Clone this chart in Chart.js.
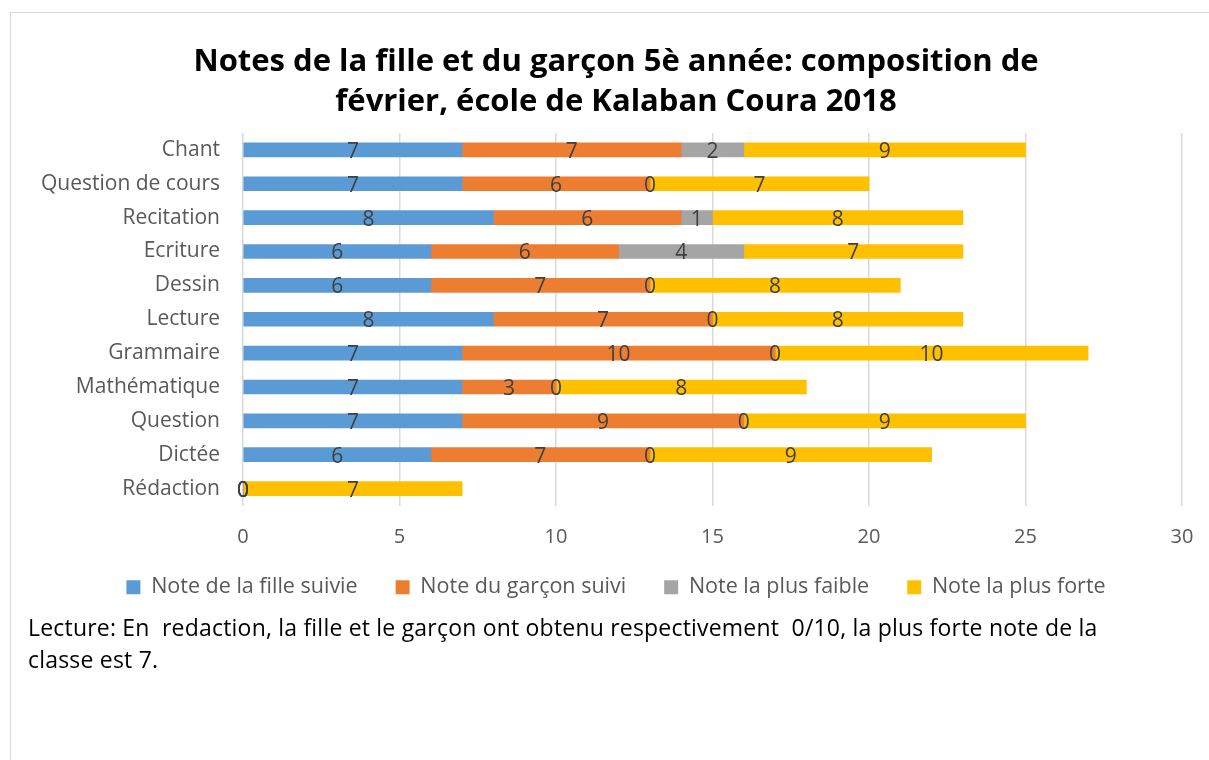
<!DOCTYPE html>
<html>
<head>
<meta charset="utf-8">
<script src="https://cdn.jsdelivr.net/npm/chart.js@4"></script>
<style>
  body { margin: 0; background: #fff; overflow: hidden; }
  .frame {
    position: absolute; left: 10px; top: 12px; width: 1210px; height: 760px;
    border-left: 1px solid #d9d9d9; border-top: 1px solid #d9d9d9; box-sizing: border-box;
  }
  .chart-container { position: absolute; left: 0; top: 0; width: 1210px; height: 626px; }
  .note {
    position: absolute; left: 17px; top: 598px; font-family: "Open Sans", sans-serif;
    font-size: 23px; letter-spacing: 0.2px; line-height: 32px; color: #000; white-space: pre;
  }
</style>
</head>
<body>
<div class="frame">
  <div class="chart-container"><canvas id="myChart"></canvas></div>
  <div class="note">Lecture: En  redaction, la fille et le garçon ont obtenu respectivement  0/10, la plus forte note de la
classe est 7.</div>
</div>
<script>
const categories = ['Chant', 'Question de cours', 'Recitation', 'Ecriture', 'Dessin', 'Lecture',
  'Grammaire', 'Mathématique', 'Question', 'Dictée', 'Rédaction'];
const noteFille = [7, 7, 8, 6, 6, 8, 7, 7, 7, 6, 0];
const noteGarcon = [7, 6, 6, 6, 7, 7, 10, 3, 9, 7, 0];
const notePlusFaible = [2, 0, 1, 4, 0, 0, 0, 0, 0, 0, 0];
const notePlusForte = [9, 7, 8, 7, 8, 8, 10, 8, 9, 9, 7];
const seriesNames = ['Note de la fille suivie', 'Note du garçon suivi', 'Note la plus faible', 'Note la plus forte'];
const xTicks = [0, 5, 10, 15, 20, 25, 30];

const font = '"Open Sans", sans-serif';

// draws the value in the middle of each bar segment
const valueLabels = {
  id: 'valueLabels',
  afterDatasetsDraw(chart) {
    const ctx = chart.ctx;
    ctx.save();
    ctx.font = '21px ' + font;
    ctx.fillStyle = '#404040';
    ctx.textAlign = 'center';
    ctx.textBaseline = 'middle';
    chart.data.datasets.forEach((ds, i) => {
      chart.getDatasetMeta(i).data.forEach((bar, j) => {
        const p = bar.getCenterPoint();
        ctx.fillText(String(ds.data[j]), p.x, p.y + 2);
      });
    });
    ctx.restore();
  },
};

// pull the legend up closer to the axis, and let long category labels use the left padding
const layoutTweaks = {
  id: 'layoutTweaks',
  afterLayout(chart) {
    chart.legend.top -= 31;
    chart.legend.bottom -= 31;
    chart.scales.y.left = 0;
  },
};

const colors = ['#5B9BD5', '#ED7D31', '#A5A5A5', '#FFC000'];
const values = [noteFille, noteGarcon, notePlusFaible, notePlusForte];

new Chart(document.getElementById('myChart').getContext('2d'), {
  type: 'bar',
  data: {
    labels: categories,
    datasets: seriesNames.map((name, i) => ({
      label: name,
      data: values[i],
      backgroundColor: colors[i],
      barThickness: 14,
    })),
  },
  plugins: [valueLabels, layoutTweaks],
  options: {
    indexAxis: 'y',
    responsive: true,
    maintainAspectRatio: false,
    animation: false,
    layout: { padding: { left: 39, right: 39, top: 0, bottom: 0 } },
    scales: {
      x: {
        stacked: true,
        min: 0,
        max: 30,
        afterBuildTicks: (scale) => { scale.ticks = xTicks.map(v => ({ value: v })); },
        grid: { color: '#d9d9d9', lineWidth: 1.5, drawTicks: false },
        border: { display: false },
        ticks: { color: '#595959', font: { family: font, size: 20 }, padding: 20 },
      },
      y: {
        stacked: true,
        grid: { display: false, drawTicks: false },
        border: { display: false },
        ticks: { color: '#595959', font: { family: font, size: 21 }, padding: 23 },
        afterFit: (scale) => { scale.width = 193; },
      },
    },
    plugins: {
      title: {
        display: true,
        text: ['Notes de la fille et du garçon 5è année: composition de', 'février, école de Kalaban Coura 2018'],
        color: '#000',
        font: { family: font, size: 31, weight: 'bold', lineHeight: 1.29 },
        padding: { top: 29, bottom: 11 },
      },
      legend: {
        position: 'bottom',
        labels: {
          color: '#595959',
          font: { family: font, size: 21.5 },
          boxWidth: 14,
          boxHeight: 14,
          padding: 38,
        },
      },
      tooltip: { enabled: false },
    },
  },
});
</script>
</body>
</html>
